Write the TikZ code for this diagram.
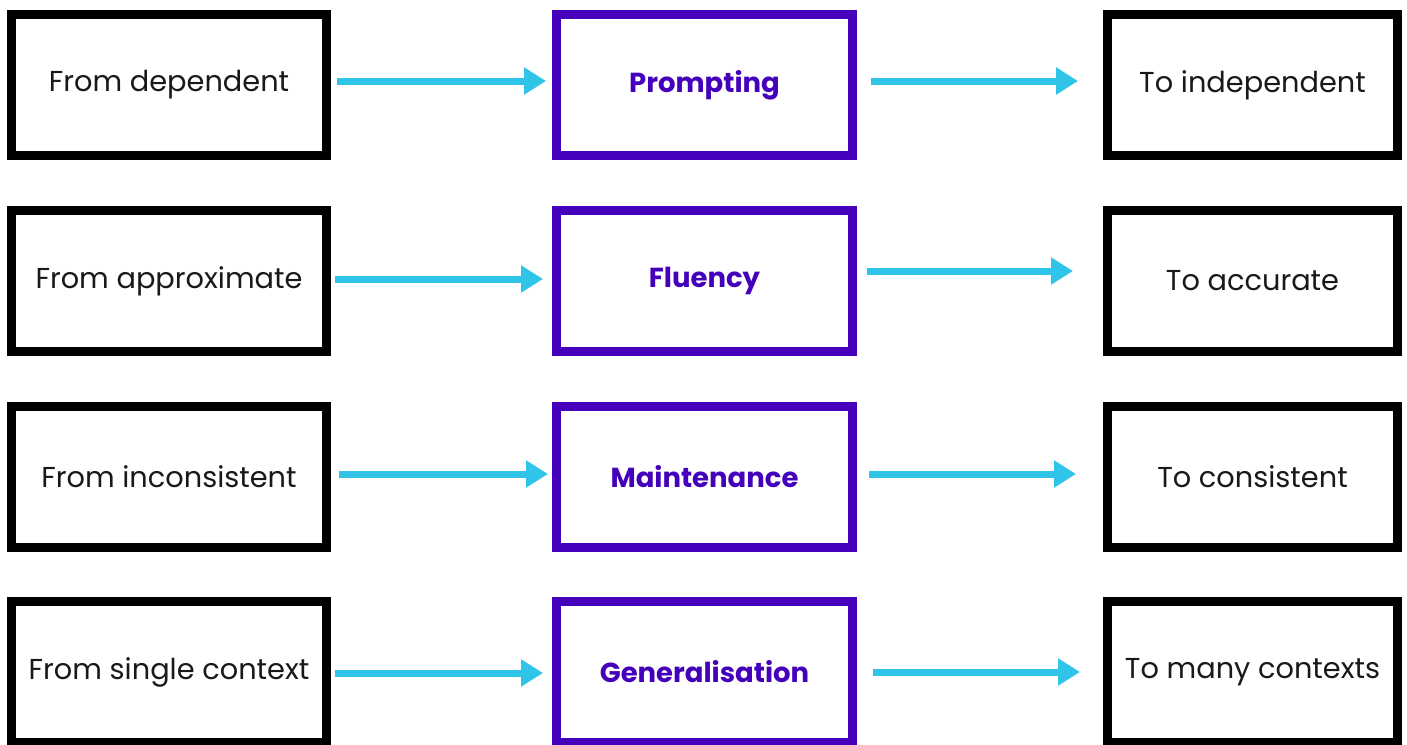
\documentclass[tikz,border=0pt]{standalone}
\usepackage{fontspec}
\setmainfont{Poppins}
\usetikzlibrary{arrows.meta}
\definecolor{boxpurple}{HTML}{4400BB}
\definecolor{arrowcyan}{HTML}{30C4E8}
\tikzset{
  plainbox/.style={draw=black, line width=9pt, fill=white, minimum width=315pt, minimum height=141pt, inner sep=0pt, font=\fontsize{28.8}{32}\selectfont, text=black!90},
  midbox/.style={draw=boxpurple, line width=9pt, fill=white, minimum width=296pt, minimum height=141pt, inner sep=0pt, font=\fontsize{27.5}{31}\selectfont\bfseries, text=boxpurple},
  rightbox/.style={draw=black, line width=9pt, fill=white, minimum width=290pt, minimum height=141pt, inner sep=0pt, font=\fontsize{28.8}{32}\selectfont, text=black!90},
  flow/.style={draw=arrowcyan, line width=7pt, -{Triangle[length=22pt,width=26pt]}},
}
\begin{document}
\begin{tikzpicture}[x=1pt,y=-1pt]
\useasboundingbox (0,0) rectangle (1407,744);
% row 1
\node[plainbox] (l1) at (169,85) {From dependent};
\node[midbox] (m1) at (704.5,85) {Prompting};
\node[rightbox] (r1) at (1252.5,85) {To independent};
% row 2
\node[plainbox] (l2) at (169,281) {From approximate};
\node[midbox] (m2) at (704.5,281) {Fluency};
\node[rightbox] (r2) at (1252.5,281) {To accurate};
% row 3
\node[plainbox] (l3) at (169,477) {From inconsistent};
\node[midbox] (m3) at (704.5,477) {Maintenance};
\node[rightbox] (r3) at (1252.5,477) {To consistent};
% row 4
\node[plainbox] (l4) at (169,672) {From single context};
\node[midbox] (m4) at (704.5,672) {Generalisation};
\node[rightbox] (r4) at (1252.5,672) {To many contexts};
% arrows
\draw[flow] ([xshift=6pt]l1.east |- 0,81) -- ([xshift=-6pt]m1.west |- 0,81);
\draw[flow] ([xshift=14pt]m1.east |- 0,81) -- ([xshift=-25pt]r1.west |- 0,81);
\draw[flow] ([xshift=4pt]l2.east |- 0,279) -- ([xshift=-9pt]m2.west |- 0,279);
\draw[flow] ([xshift=10pt]m2.east |- 0,271) -- ([xshift=-30pt]r2.west |- 0,271);
\draw[flow] ([xshift=8pt]l3.east |- 0,474) -- ([xshift=-4pt]m3.west |- 0,474);
\draw[flow] ([xshift=12pt]m3.east |- 0,474) -- ([xshift=-27pt]r3.west |- 0,474);
\draw[flow] ([xshift=4pt]l4.east |- 0,673) -- ([xshift=-9pt]m4.west |- 0,673);
\draw[flow] ([xshift=16pt]m4.east |- 0,672) -- ([xshift=-23pt]r4.west |- 0,672);
\end{tikzpicture}
\end{document}
